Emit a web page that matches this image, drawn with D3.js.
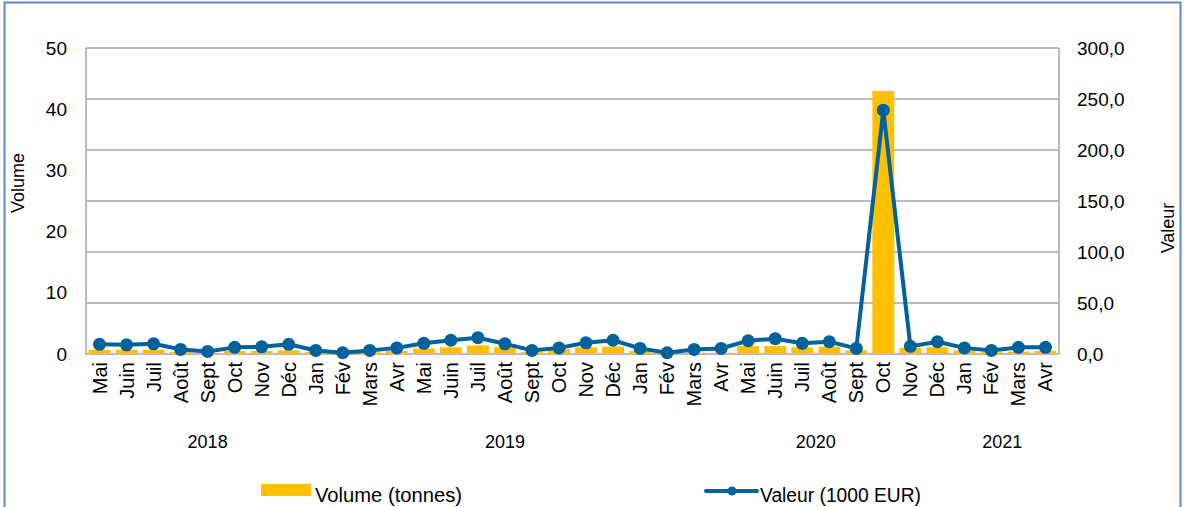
<!DOCTYPE html>
<html>
<head>
<meta charset="utf-8">
<script src="https://cdn.jsdelivr.net/npm/d3@7"></script>
<style>
  html, body { margin: 0; padding: 0; background: #fff; }
  svg { display: block; font-family: "Liberation Sans", Arial, sans-serif; }
</style>
</head>
<body>
<svg id="chart" width="1184" height="507"></svg>
<script>
// Monthly categories, May 2018 to April 2021
const months = ["Mai","Juin","Juil","Août","Sept","Oct","Nov","Déc",
  "Jan","Fév","Mars","Avr","Mai","Juin","Juil","Août","Sept","Oct","Nov","Déc",
  "Jan","Fév","Mars","Avr","Mai","Juin","Juil","Août","Sept","Oct","Nov","Déc",
  "Jan","Fév","Mars","Avr"];

// Volume in tonnes (bars, left axis)
const volume = [0.7,0.7,0.7,0.3,0.2,0.5,0.5,0.6,
  0.3,0.1,0.3,0.5,0.9,1.1,1.4,1.1,0.3,0.8,1.1,1.2,
  0.5,0.1,0.2,0.2,1.3,1.3,1.1,1.2,0.6,43,1.0,1.1,
  0.6,0.3,0.4,0.5];

// Value in 1000 EUR (line, right axis)
const valeur = [9.5,9,10,4.5,2.5,6.5,7,9.5,
  3.5,1.2,3.5,6,10.5,13.5,16,10,3.5,6,11,13.5,
  5.5,1.2,4.5,5.5,13,15,10.5,12,5.5,239,7.5,12,
  6,3.5,6.5,6.5];

// Year captions under the month labels, with the month index each sits under
const years = ["2018","2019","2020","2021"];
const yearAnchor = [4, 15, 26.5, 33.4];

const leftTicks = [0,10,20,30,40,50];
const rightTicks = [0,50,100,150,200,250,300];

const svg = d3.select("#chart");
const plot = { left: 86, right: 1059, top: 48, bottom: 354 };

// Outer frame
svg.append("rect")
  .attr("x", 4.5).attr("y", 2.5).attr("width", 1176).attr("height", 515)
  .attr("fill", "none").attr("stroke", "#5b87c7").attr("stroke-width", 2);

const idx = d3.range(months.length);
const x = d3.scaleBand().domain(idx).range([plot.left, plot.right]).paddingInner(0.19).paddingOuter(0.095);
const xc = i => x(i) + x.bandwidth() / 2;
const xf = v => d3.scaleLinear().domain([0, months.length - 1]).range([xc(0), xc(months.length - 1)])(v);

const yL = d3.scaleLinear().domain([0, 50]).range([plot.bottom, plot.top]);
const yR = d3.scaleLinear().domain([0, 300]).range([plot.bottom, plot.top]);

// Gridlines follow the right axis
svg.append("g")
  .selectAll("line").data(rightTicks.filter(t => t > 0)).join("line")
  .attr("x1", plot.left).attr("x2", plot.right)
  .attr("y1", d => yR(d)).attr("y2", d => yR(d))
  .attr("stroke", "#a6a6a6").attr("stroke-width", 1.5);

// Plot box sides and baseline
svg.append("path")
  .attr("d", `M${plot.left},${plot.top}V${plot.bottom}H${plot.right}V${plot.top}`)
  .attr("fill", "none").attr("stroke", "#a6a6a6").attr("stroke-width", 1.5);

// Bars
svg.append("g").selectAll("rect").data(volume).join("rect")
  .attr("x", (d, i) => x(i))
  .attr("width", x.bandwidth())
  .attr("y", d => yL(d))
  .attr("height", d => yL(0) - yL(d))
  .attr("fill", "#ffc000");

// Line + markers
const line = d3.line().x((d, i) => xc(i)).y(d => yR(d));
svg.append("path").datum(valeur)
  .attr("d", line).attr("fill", "none")
  .attr("stroke", "#00629d").attr("stroke-width", 4).attr("stroke-linejoin", "round");
svg.append("g").selectAll("circle").data(valeur).join("circle")
  .attr("cx", (d, i) => xc(i)).attr("cy", d => yR(d)).attr("r", 6.5)
  .attr("fill", "#00629d");

// Left axis labels
const leftAxis = d3.axisLeft(yL).tickValues(leftTicks).tickSize(0).tickPadding(0).tickFormat(d3.format("d"));
const gl = svg.append("g").attr("transform", `translate(67,0)`).call(leftAxis);
gl.select(".domain").remove();
gl.selectAll("text").attr("font-size", 19).attr("fill", "#000")
  .attr("font-family", "Liberation Sans, Arial, sans-serif");

// Right axis labels
const fr = d3.formatLocale({ decimal: ",", thousands: " ", grouping: [3], currency: ["", "€"] }).format(".1f");
const rightAxis = d3.axisRight(yR).tickValues(rightTicks).tickSize(0).tickPadding(0).tickFormat(fr);
const gr = svg.append("g").attr("transform", `translate(1077,0)`).call(rightAxis);
gr.select(".domain").remove();
gr.selectAll("text").attr("font-size", 19).attr("fill", "#000")
  .attr("font-family", "Liberation Sans, Arial, sans-serif");

// Month labels
svg.append("g").selectAll("text").data(months).join("text")
  .attr("transform", (d, i) => `translate(${xc(i) + 7},362) rotate(-90)`)
  .attr("text-anchor", "end")
  .attr("font-size", 20)
  .text(d => d);

// Year labels
svg.append("g").selectAll("text").data(years).join("text")
  .attr("x", (d, i) => xf(yearAnchor[i]))
  .attr("y", 448)
  .attr("text-anchor", "middle")
  .attr("font-size", 18)
  .text(d => d);

// Axis titles
svg.append("text").attr("transform", "translate(24,183) rotate(-90)")
  .attr("text-anchor", "middle").attr("font-size", 18).text("Volume");
svg.append("text").attr("transform", "translate(1174,228) rotate(-90)")
  .attr("text-anchor", "middle").attr("font-size", 18).text("Valeur");

// Legend
const lg = svg.append("g");
lg.append("rect").attr("x", 261).attr("y", 484).attr("width", 50).attr("height", 12).attr("fill", "#ffc000");
lg.append("text").attr("x", 315).attr("y", 502).attr("font-size", 20)
  .attr("textLength", 147).attr("lengthAdjust", "spacingAndGlyphs")
  .text("Volume  (tonnes)");
lg.append("line").attr("x1", 706).attr("x2", 757).attr("y1", 491).attr("y2", 491)
  .attr("stroke", "#00629d").attr("stroke-width", 4).attr("stroke-linecap", "round");
lg.append("circle").attr("cx", 732).attr("cy", 491).attr("r", 4.5).attr("fill", "#00629d");
lg.append("text").attr("x", 760).attr("y", 502).attr("font-size", 20)
  .attr("textLength", 161).attr("lengthAdjust", "spacingAndGlyphs")
  .text("Valeur (1000 EUR)");
</script>
</body>
</html>
